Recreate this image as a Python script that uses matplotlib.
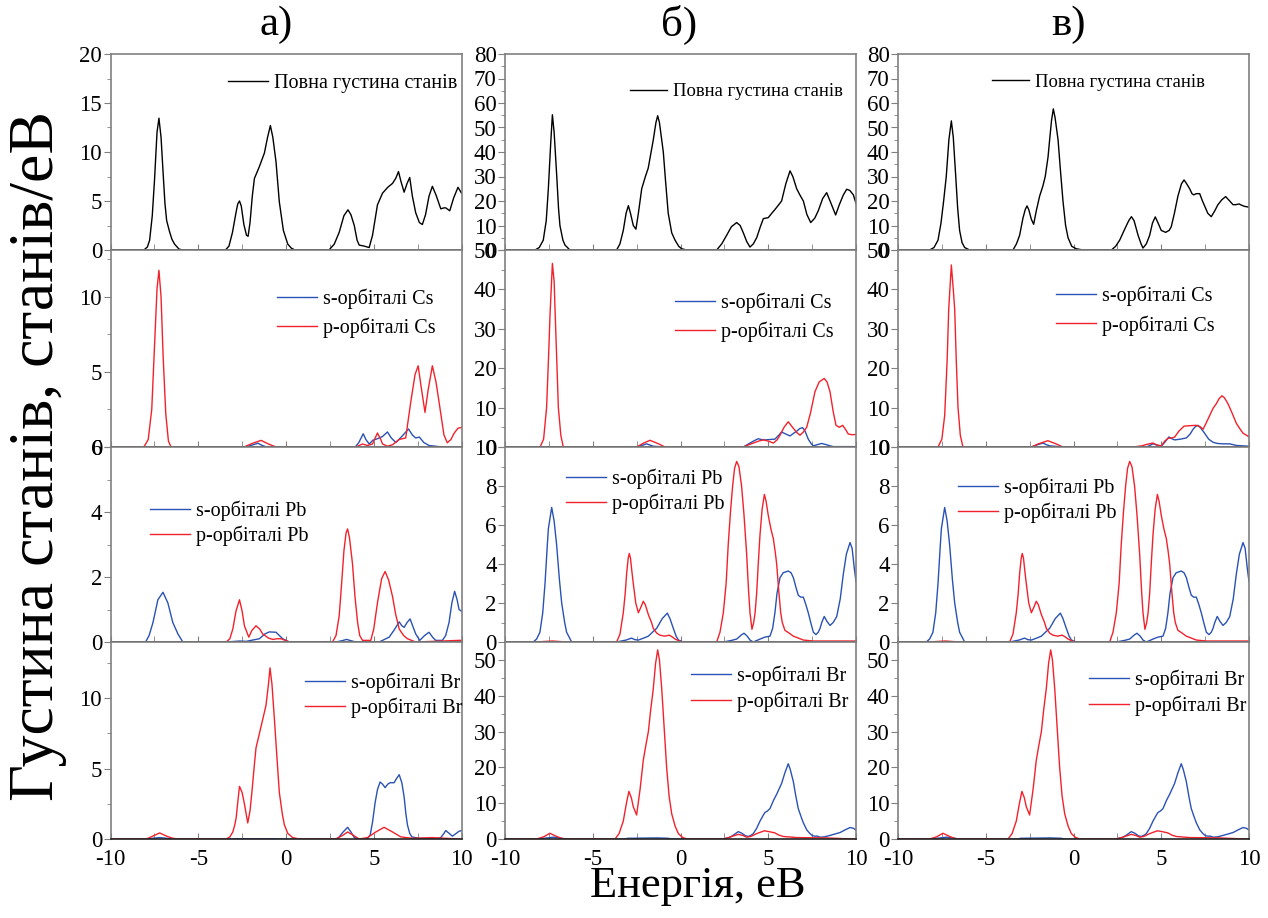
# PDOS of CsPbBr3: total and partial densities of states for three structures (а, б, в)

import matplotlib.pyplot as plt
from matplotlib.ticker import MultipleLocator

plt.rcParams['font.family'] = ['Liberation Serif', 'DejaVu Serif']
plt.rcParams['axes.unicode_minus'] = False

# ---- data (energy in eV, DOS in states/eV) ----

# а) total DOS
tot_a_x = [-10, -8.1, -7.9, -7.77, -7.62, -7.49, -7.35, -7.24, -7.12, -7.0, -6.9, -6.8, -6.64, -6.5, -6.35, -6.1, -5.9,
           -3.45, -3.25, -3.05, -2.85, -2.75, -2.65, -2.55, -2.4, -2.25, -2.16, -2.05, -1.92, -1.8, -1.52, -1.23, -1.05,
           -0.89, -0.75, -0.57, -0.38, -0.15, 0.1, 0.3, 0.5,
           2.45, 2.75, 3.03, 3.3, 3.53, 3.7, 3.89, 4.05, 4.17, 4.45, 4.74, 4.93, 5.21, 5.5, 5.8, 6.07, 6.25, 6.41, 6.55,
           6.73, 6.9, 7.05, 7.2, 7.39, 7.6, 7.77, 7.95, 8.15, 8.34, 8.55, 8.82, 9.0, 9.1, 9.33, 9.55, 9.8, 10]
tot_a_y = [0, 0, 0.3, 1.0, 3.5, 7.2, 12.0, 13.45, 11.5, 7.8, 4.8, 3.0, 1.9, 1.1, 0.6, 0.1, 0,
           0, 0.4, 1.8, 3.8, 4.7, 5.0, 4.5, 2.6, 1.5, 1.4, 2.8, 5.5, 7.3, 8.5, 9.9, 11.5,
           12.7, 11.5, 9.0, 4.9, 2.0, 0.6, 0.2, 0,
           0, 0.6, 1.8, 3.5, 4.1, 3.6, 2.5, 1.0, 0.5, 0.4, 0.25, 1.5, 4.6, 5.8, 6.4, 6.8, 7.3, 8.0, 7.0,
           5.9, 6.8, 7.4, 5.5, 3.8, 2.8, 2.6, 3.6, 5.5, 6.5, 5.6, 4.2, 4.3, 4.3, 4.0, 5.3, 6.4, 5.8]

# а) Cs
s_cs_a_x = [-10, -2.3, -1.95, -1.6, -1.35, -1.1, 3.95, 4.15, 4.4, 4.55, 4.74, 4.95, 5.21, 5.5, 5.78, 6.0, 6.26, 6.6,
            6.98, 7.2, 7.39, 7.6, 7.85, 8.15, 8.9, 10]
s_cs_a_y = [0, 0, 0.12, 0.25, 0.1, 0, 0, 0.3, 0.88, 0.5, 0.2, 0.45, 0.55, 0.7, 1.0, 0.6, 0.3, 0.7,
            1.2, 0.8, 0.6, 0.66, 0.3, 0.1, 0, 0]
p_cs_a_x = [-10, -8.1, -7.85, -7.65, -7.5, -7.35, -7.24, -7.12, -7.0, -6.85, -6.7, -6.55, -2.4, -1.9, -1.42, -1.0,
            -0.57, 3.98, 4.36, 4.64, 4.93, 5.21, 5.4, 5.5, 5.78, 6.07, 6.45, 6.82, 7.11, 7.35, 7.53, 7.7, 7.92, 8.1,
            8.34, 8.55, 8.72, 9.0, 9.19, 9.4, 9.57, 9.8, 10]
p_cs_a_y = [0, 0, 0.5, 2.5, 6.5, 10.5, 11.75, 10, 6, 2.2, 0.4, 0, 0, 0.25, 0.44, 0.2,
            0, 0, 0.2, 0.1, 0.2, 0.93, 0.5, 0.2, 0.05, 0.15, 0.5, 0.6, 3.0, 4.8, 5.4, 4.0, 2.3, 3.8,
            5.4, 4.3, 3.0, 0.8, 0.28, 0.5, 0.9, 1.25, 1.3]

# а) Pb
s_pb_a_x = [-10, -8.0, -7.8, -7.58, -7.3, -7.01, -6.73, -6.45, -6.16, -5.88, -3.4, -2.65, -2.27, -1.52, -1.2, -0.95,
            -0.57, -0.19, 0.19, 2.84, 3.2, 3.45, 3.7, 3.98, 5.31, 5.88, 6.2, 6.45, 6.6, 6.73, 6.9, 7.07, 7.25, 7.39,
            7.62, 7.9, 8.15, 8.35, 8.53, 8.91, 9.1, 9.29, 9.45, 9.61, 9.75, 9.86, 10]
s_pb_a_y = [0, 0, 0.2, 0.6, 1.3, 1.53, 1.2, 0.6, 0.25, 0, 0, 0.03, 0.02, 0.1, 0.25, 0.31,
            0.3, 0.1, 0, 0, 0.04, 0.08, 0.04, 0, 0, 0.15, 0.4, 0.62, 0.5, 0.45, 0.6, 0.71, 0.45, 0.25,
            0.05, 0.2, 0.3, 0.15, 0.05, 0.05, 0.2, 0.6, 1.2, 1.56, 1.3, 1.0, 0.95]
p_pb_a_x = [-10, -3.41, -3.2, -3.03, -2.85, -2.65, -2.5, -2.37, -2.12, -1.95, -1.71, -1.5, -1.33, -1.0, -0.76, -0.5,
            -0.28, 0.19, 2.65, 2.85, 3.03, 3.17, 3.3, 3.42, 3.51, 3.62, 3.79, 3.93, 4.08, 4.2, 4.36, 4.83, 5.0, 5.21,
            5.45, 5.65, 5.85, 6.07, 6.25, 6.45, 6.7, 6.92, 7.39, 9.86, 10]
p_pb_a_y = [0, 0, 0.1, 0.4, 0.95, 1.3, 0.95, 0.5, 0.15, 0.35, 0.5, 0.4, 0.25, 0.12, 0.08, 0.1,
            0.1, 0, 0, 0.2, 0.8, 1.8, 2.8, 3.35, 3.48, 3.2, 2.4, 1.4, 0.6, 0.2, 0.05, 0.05, 0.4, 1.2,
            1.95, 2.17, 1.9, 1.4, 0.85, 0.4, 0.2, 0.1, 0, 0.05, 0.05]

# а) Br
s_br_a_x = [-10, -7.96, -7.6, -7.2, -6.8, -6.45, -3.0, -2.9, -0.6, -0.5, 2.84, 3.0, 3.22, 3.51, 3.7, 3.89, 4.1, 4.64,
            4.8, 4.93, 5.08, 5.21, 5.36, 5.5, 5.65, 5.8, 5.93, 6.16, 6.3, 6.45, 6.6, 6.73, 6.83, 6.92, 7.05, 7.17,
            7.58, 8.53, 8.82, 9.0, 9.1, 9.3, 9.48, 9.7, 9.86, 10]
s_br_a_y = [0, 0, 0.05, 0.1, 0.05, 0, 0, 0.02, 0.02, 0, 0, 0.1, 0.45, 0.83, 0.5, 0.1, 0, 0.02,
            0.3, 1.2, 2.6, 3.5, 4.05, 3.9, 3.65, 3.9, 4.0, 4.0, 4.3, 4.57, 4.0, 3.0, 1.8, 1.0, 0.4, 0.15,
            0.05, 0, 0.1, 0.4, 0.6, 0.4, 0.2, 0.4, 0.55, 0.6]
p_br_a_x = [-10, -7.96, -7.6, -7.2, -6.8, -6.45, -6.07, -3.41, -3.2, -3.03, -2.92, -2.84, -2.75, -2.65, -2.5, -2.37,
            -2.18, -2.05, -1.93, -1.8, -1.71, -1.42, -1.14, -1.0, -0.91, -0.8, -0.66, -0.5, -0.38, -0.2, -0.09,
            0.1, 0.38, 0.76, 2.84, 3.22, 3.51, 3.79, 4.17, 4.64, 5.12, 5.59, 6.07, 6.54, 7.2, 8.34, 9.86, 10]
p_br_a_y = [0, 0, 0.2, 0.43, 0.2, 0.05, 0, 0, 0.15, 0.5, 1.0, 1.5, 2.6, 3.74, 3.3, 2.5,
            1.14, 2.0, 3.5, 5.3, 6.47, 8.0, 9.5, 11.0, 12.16, 11.0, 8.5, 5.5, 3.3, 1.7, 1.0,
            0.4, 0.1, 0, 0, 0.25, 0.5, 0.3, 0, 0.1, 0.5, 0.83, 0.5, 0.15, 0.05, 0.1, 0, 0]

# б) total DOS
tot_b_x = [-10, -8.29, -8.05, -7.82, -7.65, -7.53, -7.4, -7.3, -7.2, -7.05, -6.95, -6.87, -6.7, -6.58, -6.3,
           -3.64, -3.45, -3.26, -3.1, -2.97, -2.85, -2.69, -2.54, -2.4, -2.21, -2.0, -1.84, -1.7, -1.55, -1.4, -1.3,
           -1.2, -0.98, -0.85, -0.7, -0.5, -0.31, -0.1, 0.07, 0.35,
           2.06, 2.35, 2.63, 2.9, 3.2, 3.4, 3.58, 3.77, 3.96, 4.15, 4.34, 4.55, 4.72, 4.85, 5.0, 5.2, 5.38, 5.6,
           5.76, 6.0, 6.24, 6.4, 6.62, 6.8, 7.0, 7.2, 7.42, 7.65, 7.85, 8.1, 8.33, 8.55, 8.84, 9.05, 9.28, 9.47,
           9.65, 9.85, 10]
tot_b_y = [0, 0, 1, 4, 12, 25, 43, 55.2, 48, 30, 17, 10, 4, 2, 0,
           0, 2.5, 8, 15, 18.1, 15, 10, 8.5, 15, 25, 30, 33.4, 39, 45, 52, 54.8,
           52, 40, 28, 15, 7, 4, 1.5, 0.5, 0,
           0, 2.5, 6, 9.5, 11.2, 10, 7, 3.5, 1.2, 2.5, 5, 9.5, 12.8, 13, 13.2, 15, 16.5, 18.5,
           20, 27, 32.3, 30, 25, 22.5, 20, 14.5, 11.2, 13, 16, 21, 23.4, 19.5, 14.3, 18.5, 22.5, 24.8,
           24.3, 22.5, 19]

# б) Cs
s_cs_b_x = [-10, -2.5, -2.2, -1.93, -1.75, -1.55, -0.98, 3.58, 3.96, 4.2, 4.43, 4.6, 4.81, 5.1, 5.38, 5.6, 5.76,
            6.0, 6.24, 6.45, 6.62, 6.8, 6.96, 7.1, 7.28, 7.45, 7.57, 7.8, 8.04, 8.3, 8.52, 8.7, 10]
s_cs_b_y = [0, 0, 0.4, 0.8, 0.5, 0.2, 0, 0, 1.0, 1.6, 2.1, 1.9, 1.8, 1.9, 2.0, 3.0, 3.8,
            3.3, 2.8, 3.5, 4.0, 4.7, 4.9, 4.0, 2.0, 0.8, 0.3, 0.6, 0.9, 0.6, 0.3, 0.1, 0.1]
p_cs_b_x = [-10, -8.0, -7.8, -7.63, -7.5, -7.44, -7.3, -7.2, -7.15, -7.05, -6.96, -6.82, -6.68, -2.5, -2.1, -1.74,
            -1.3, -0.88, 3.58, 3.85, 4.15, 4.45, 4.72, 5.0, 5.29, 5.5, 5.67, 5.9, 6.14, 6.35, 6.62, 6.81, 7.0, 7.19,
            7.4, 7.66, 7.9, 8.19, 8.35, 8.52, 8.7, 8.86, 9.05, 9.24, 9.4, 9.56, 9.8, 10]
p_cs_b_y = [0, 0, 2, 10, 25, 33, 46.6, 42, 35, 22, 10, 3, 0, 0, 1.0, 1.7,
            0.9, 0, 0, 0.5, 1.0, 1.5, 1.8, 1.5, 1.0, 1.8, 3.0, 5.0, 6.4, 5.2, 3.7, 3.0, 3.8, 5.0,
            8.5, 14, 16.5, 17.4, 16.5, 14, 9, 5.5, 5.0, 5.5, 4.5, 3.3, 3.1, 3.2]

# б) and в) Pb, Br (the two panels read the same)
s_pb_bc_x = [-10, -8.39, -8.2, -8.01, -7.85, -7.72, -7.6, -7.53, -7.34, -7.2, -7.06, -6.9, -6.77, -6.6, -6.49, -6.2,
             -3.64, -3.1, -2.79, -2.6, -2.4, -2.1, -1.83, -1.6, -1.36, -1.04, -0.75, -0.6, -0.41, -0.25, -0.12, 0.16,
             2.44, 2.9, 3.2, 3.45, 3.62, 3.8, 3.96, 4.15, 4.53, 4.81, 5.1, 5.25, 5.38, 5.5, 5.67, 5.85, 6.14, 6.3,
             6.43, 6.58, 6.71, 6.85, 7.0, 7.15, 7.28, 7.45, 7.57, 7.72, 7.85, 7.95, 8.05, 8.19, 8.35, 8.52, 8.7, 8.9,
             9.1, 9.28, 9.45, 9.66, 9.78, 9.9, 10]
s_pb_bc_y = [0, 0, 0.15, 0.5, 1.5, 3.0, 4.8, 5.8, 6.9, 6.2, 5.0, 3.2, 2.0, 1.0, 0.5, 0,
             0, 0.1, 0.2, 0.12, 0.1, 0.2, 0.3, 0.5, 0.7, 1.2, 1.48, 1.2, 0.7, 0.3, 0.1, 0,
             0, 0.08, 0.15, 0.35, 0.45, 0.3, 0.1, 0, 0.15, 0.25, 0.3, 0.7, 1.5, 2.5, 3.3, 3.55, 3.64, 3.55,
             3.3, 2.8, 2.4, 2.3, 2.3, 1.9, 1.5, 0.9, 0.5, 0.38, 0.5, 0.7, 1.0, 1.31, 1.05, 0.85, 1.0, 1.3,
             2.2, 3.5, 4.5, 5.1, 4.8, 3.8, 3.1]
p_pb_bc_x = [-10, -8.3, -7.3, -6.5, -3.64, -3.45, -3.26, -3.15, -3.07, -2.98, -2.92, -2.85, -2.78, -2.69, -2.55, -2.4,
             -2.25, -2.12, -2.0, -1.83, -1.65, -1.55, -1.35, -1.17, -0.9, -0.64, -0.45, -0.31, 0.07,
             2.06, 2.25, 2.44, 2.6, 2.72, 2.85, 2.97, 3.08, 3.2, 3.33, 3.48, 3.62, 3.77, 3.88, 3.96, 4.07, 4.17,
             4.25, 4.34, 4.43, 4.53, 4.65, 4.78, 4.88, 5.0, 5.15, 5.29, 5.4, 5.48, 5.6, 5.71, 5.8, 5.95, 6.2, 6.43,
             7.0, 7.57, 10]
p_pb_bc_y = [0, 0, 0.05, 0, 0, 0.4, 1.5, 2.5, 3.5, 4.3, 4.54, 4.3, 3.7, 3.0, 2.0, 1.5,
             1.8, 2.09, 1.9, 1.4, 1.0, 0.7, 0.45, 0.35, 0.3, 0.35, 0.25, 0.15, 0,
             0, 0.5, 1.5, 3.0, 5.0, 6.7, 8.0, 8.9, 9.26, 9.0, 8.0, 6.5, 4.5, 2.6, 1.5, 0.65, 1.0,
             1.5, 2.5, 4.0, 5.5, 6.8, 7.57, 7.2, 6.5, 5.8, 5.3, 4.6, 4.0, 2.6, 1.5, 1.0, 0.6, 0.45, 0.3,
             0.1, 0.05, 0.05]
s_br_bc_x = [-10, -8.2, -7.7, -7.25, -6.9, -6.49, -3.2, -3.0, -1.3, -0.7, -0.5, 2.44, 2.82, 3.05, 3.29, 3.5, 3.7,
             3.86, 4.0, 4.15, 4.34, 4.53, 4.7, 4.81, 4.95, 5.1, 5.3, 5.48, 5.62, 5.76, 5.95, 6.14, 6.25, 6.43, 6.57,
             6.71, 6.85, 7.0, 7.2, 7.38, 7.52, 7.66, 7.8, 7.95, 8.2, 8.52, 8.8, 9.09, 9.4, 9.66, 9.85, 10]
s_br_bc_y = [0, 0, 0.25, 0.5, 0.3, 0, 0, 0.2, 0.3, 0.2, 0, 0, 0.5, 1.2, 2.06, 1.6, 0.9,
             0.7, 1.0, 1.5, 3.0, 5.0, 6.5, 7.4, 7.8, 8.5, 10.8, 12.5, 14.0, 15.5, 18.5, 21.0, 19.5, 16, 12,
             8.5, 6.5, 4.5, 2.5, 1.5, 0.9, 0.8, 0.8, 0.5, 0.6, 1.0, 1.4, 1.8, 2.6, 3.2, 3.0, 2.5]
p_br_bc_x = [-10, -8.2, -7.8, -7.44, -7.1, -6.68, -3.73, -3.5, -3.26, -3.08, -2.94, -2.8, -2.69, -2.5, -2.3, -2.12,
             -1.98, -1.83, -1.7, -1.55, -1.42, -1.3, -1.2, -1.07, -0.93, -0.79, -0.65, -0.5, -0.3, -0.12, 0.1, 0.35,
             2.44, 2.8, 3.29, 3.55, 3.77, 4.0, 4.34, 4.78, 5.1, 5.38, 5.6, 5.86, 6.62, 8.33, 9.28, 10]
p_br_bc_y = [0, 0, 0.6, 1.6, 0.8, 0, 0, 1.5, 5.0, 10, 13.3, 11.5, 9.0, 6.7, 14, 22,
             26, 30, 36, 42, 49, 52.8, 50, 42, 31, 20, 12, 7, 3.5, 1.5, 0.5, 0,
             0, 0.5, 1.3, 1.0, 0.5, 0.7, 1.5, 2.3, 2.0, 1.7, 1.1, 0.7, 0.4, 0.3, 0.1, 0]

# в) total DOS
tot_c_x = [-10, -8.2, -7.95, -7.72, -7.55, -7.4, -7.25, -7.1, -6.96, -6.85, -6.71, -6.6, -6.49, -6.35, -6.2, -5.92,
           -3.45, -3.25, -3.07, -2.88, -2.75, -2.65, -2.55, -2.4, -2.27, -2.12, -1.93, -1.75, -1.61, -1.45, -1.36,
           -1.25, -1.15, -1.05, -0.88, -0.75, -0.6, -0.45, -0.31, -0.1, 0.16, 0.54,
           2.16, 2.4, 2.63, 2.95, 3.15, 3.3, 3.45, 3.68, 3.85, 3.96, 4.15, 4.34, 4.5, 4.66, 4.82, 5.0, 5.25, 5.45,
           5.57, 5.75, 5.95, 6.15, 6.3, 6.45, 6.62, 6.75, 6.85, 7.0, 7.19, 7.35, 7.47, 7.65, 7.85, 8.05, 8.23,
           8.45, 8.67, 8.9, 9.09, 9.25, 9.43, 9.6, 9.75, 10]
tot_c_y = [0, 0, 1, 4, 11, 20, 30, 45, 52.7, 46, 30, 17, 8, 3, 1, 0,
           0, 2.5, 6, 13, 16.5, 18.0, 16.5, 12.5, 10.5, 16, 22, 26, 30, 38, 45,
           53, 57.6, 54, 45, 33, 20, 10, 5, 1.5, 0.5, 0,
           0, 1.5, 4, 9, 12, 13.6, 12, 6, 2.5, 0.8, 2.5, 6, 11, 13.5, 11, 8.0, 7.2, 8.0,
           9.5, 15, 22, 27, 28.6, 27, 25, 23, 22.5, 23, 23, 20, 18, 15, 13.6, 16, 18.5,
           20.5, 21.8, 20, 18.5, 18.5, 18.8, 18.2, 17.8, 17.5]

# в) Cs
s_cs_c_x = [-10, -2.4, -2.1, -1.74, -1.55, -1.36, -0.6, 4.15, 4.35, 4.53, 4.75, 5.0, 5.2, 5.44, 5.6, 5.76, 6.1,
            6.43, 6.65, 6.81, 6.95, 7.09, 7.25, 7.47, 7.7, 7.95, 8.2, 8.52, 8.9, 9.28, 9.6, 10]
s_cs_c_y = [0, 0, 0.5, 1.0, 0.6, 0.3, 0, 0, 0.4, 0.8, 0.5, 0.2, 1.2, 2.55, 2.1, 1.8, 2.0,
            2.3, 3.3, 4.5, 5.2, 5.5, 4.8, 3.5, 2.0, 1.2, 0.9, 0.8, 0.8, 0.4, 0.3, 0.2]
p_cs_c_x = [-10, -7.72, -7.5, -7.34, -7.2, -7.11, -6.96, -6.85, -6.77, -6.68, -6.58, -6.45, -6.3, -2.4, -2.0, -1.46,
            -1.0, -0.6, 3.39, 3.9, 4.2, 4.53, 4.75, 5.0, 5.2, 5.38, 5.6, 5.76, 6.0, 6.3, 6.6, 7.0, 7.2, 7.38, 7.55,
            7.76, 7.95, 8.14, 8.3, 8.46, 8.6, 8.8, 9.0, 9.28, 9.5, 9.66, 9.85, 10]
p_cs_c_y = [0, 0, 2, 8, 22, 35, 46.2, 40, 35, 22, 10, 3, 0, 0, 0.8, 1.6,
            0.8, 0, 0, 0.3, 0.7, 1.0, 0.5, 0.3, 1.5, 2.2, 2.3, 2.5, 4.0, 5.3, 5.4, 5.5, 5.2, 4.5, 6,
            8, 9.8, 11, 12.3, 13.0, 12.5, 11, 9, 6, 4.5, 3.5, 3.0, 2.6]

panel_titles = ['а)', 'б)', 'в)']
tot_label = 'Повна густина станів'
ylabel = 'Густина станів, станів/еВ'
xlabel = 'Енергія, еВ'

blue = '#2a52b4'
red = '#f2222c'
frame = '#808080'

# (curves per row) for each column: list of (x, y, color, label)
columns = [
    [[(tot_a_x, tot_a_y, 'black', tot_label)],
     [(s_cs_a_x, s_cs_a_y, blue, 's-орбіталі Cs'), (p_cs_a_x, p_cs_a_y, red, 'p-орбіталі Cs')],
     [(s_pb_a_x, s_pb_a_y, blue, 's-орбіталі Pb'), (p_pb_a_x, p_pb_a_y, red, 'p-орбіталі Pb')],
     [(s_br_a_x, s_br_a_y, blue, 's-орбіталі Br'), (p_br_a_x, p_br_a_y, red, 'p-орбіталі Br')]],
    [[(tot_b_x, tot_b_y, 'black', tot_label)],
     [(s_cs_b_x, s_cs_b_y, blue, 's-орбіталі Cs'), (p_cs_b_x, p_cs_b_y, red, 'p-орбіталі Cs')],
     [(s_pb_bc_x, s_pb_bc_y, blue, 's-орбіталі Pb'), (p_pb_bc_x, p_pb_bc_y, red, 'p-орбіталі Pb')],
     [(s_br_bc_x, s_br_bc_y, blue, 's-орбіталі Br'), (p_br_bc_x, p_br_bc_y, red, 'p-орбіталі Br')]],
    [[(tot_c_x, tot_c_y, 'black', tot_label)],
     [(s_cs_c_x, s_cs_c_y, blue, 's-орбіталі Cs'), (p_cs_c_x, p_cs_c_y, red, 'p-орбіталі Cs')],
     [(s_pb_bc_x, s_pb_bc_y, blue, 's-орбіталі Pb'), (p_pb_bc_x, p_pb_bc_y, red, 'p-орбіталі Pb')],
     [(s_br_bc_x, s_br_bc_y, blue, 's-орбіталі Br'), (p_br_bc_x, p_br_bc_y, red, 'p-орбіталі Br')]],
]

# y limits and major steps per column/row
ylims = [[20, 13.1, 6, 14], [80, 50, 10, 55], [80, 50, 10, 55]]
ysteps = [[5, 5, 2, 5], [10, 10, 2, 10], [10, 10, 2, 10]]

# legend anchor (axes fraction), spacing, font size
leg_pos = [
    [(0.334, 0.90, 0.3, 14.5), (0.474, 0.805, 0.45, 14.5), (0.112, 0.725, 0.2, 14.5), (0.553, 0.845, 0.2, 14.5)],
    [(0.356, 0.85, 0.3, 13.4), (0.484, 0.785, 0.45, 14.5), (0.174, 0.89, 0.25, 14.5), (0.530, 0.88, 0.25, 14.5)],
    [(0.268, 0.90, 0.3, 13.4), (0.450, 0.82, 0.45, 14.5), (0.171, 0.845, 0.25, 14.5), (0.544, 0.86, 0.25, 14.5)],
]

W, H = 1268, 918
col_left = [110.5, 505, 898]
col_w = 351
row_edges = [54, 250, 447, 642, 839]
title_x = [276, 679, 1068]

fig = plt.figure(figsize=(W / 100, H / 100), dpi=100)

for c in range(3):
    for r in range(4):
        top, bot = row_edges[r], row_edges[r + 1]
        ax = fig.add_axes([col_left[c] / W, 1 - bot / H, col_w / W, (bot - top) / H])
        for x, y, color, label in columns[c][r]:
            ax.plot(x, y, color=color, lw=1.0, label=label)

        ax.set_xlim(-10, 10)
        ax.set_ylim(0, ylims[c][r])
        ax.xaxis.set_major_locator(MultipleLocator(5))
        ax.xaxis.set_minor_locator(MultipleLocator(2.5))
        ax.yaxis.set_major_locator(MultipleLocator(ysteps[c][r]))
        ax.yaxis.set_minor_locator(MultipleLocator(ysteps[c][r] / 2))
        ax.tick_params(axis='x', which='both', direction='in', length=4, color=frame, labelsize=16.5, pad=7)
        ax.tick_params(axis='y', which='major', direction='out', length=5, color=frame, labelsize=16.5, pad=1)
        ax.tick_params(axis='y', which='minor', direction='out', length=3, color=frame)
        if r < 3:
            ax.tick_params(axis='x', labelbottom=False)
        for side in ['top', 'right', 'left']:
            ax.spines[side].set_color(frame)
            ax.spines[side].set_linewidth(1.2)
        ax.spines['bottom'].set_color('#222222')
        ax.spines['bottom'].set_linewidth(1.2)

        lx, ly, ls, fs = leg_pos[c][r]
        ax.legend(loc='upper left', bbox_to_anchor=(lx, ly), frameon=False, fontsize=fs,
                  borderpad=0, borderaxespad=0, handlelength=2.0, handletextpad=0.3, labelspacing=ls)

    fig.text(title_x[c] / W, 1 - 25 / H, panel_titles[c], ha='center', va='center', fontsize=31)

fig.text(38 / W, 1 - 456 / H, ylabel, rotation=90, ha='center', va='center', fontsize=46)
fig.text(698 / W, 1 - 886 / H, xlabel, ha='center', va='center', fontsize=32)

plt.savefig('out.png', dpi=100)
